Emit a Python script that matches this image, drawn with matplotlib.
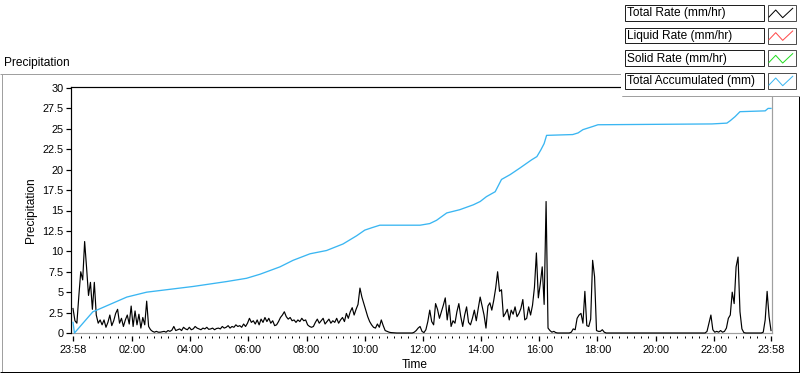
import numpy as np
import matplotlib
matplotlib.use("Agg")
import matplotlib.pyplot as plt
from matplotlib.patches import Rectangle

plt.rcParams['font.family'] = ['Liberation Sans', 'DejaVu Sans']

# ---------------- data ----------------
# Total rate (mm/hr), sampled every 4 minutes starting at 23:58
rate_step_min = 4
rate_00_05 = [3.0, 1.5, 1.2, 4.5, 7.5, 6.5, 11.2, 8.0, 4.6, 6.2, 2.9, 6.2, 2.2, 1.2, 1.6,
              1.0, 1.6, 0.7, 1.3, 2.2, 0.9, 1.5, 2.4, 2.9, 1.2, 1.8, 0.8, 1.6, 2.2, 1.1,
              3.3, 0.8, 2.7, 1.0, 2.3, 0.6, 1.9, 1.0, 3.9, 0.8, 0.4, 0.2, 0.1, 0.2, 0.1,
              0.1, 0.15, 0.2, 0.1, 0.3, 0.2, 0.35, 0.8, 0.3, 0.4, 0.5, 0.3, 0.7, 0.5, 0.4,
              0.7, 0.4, 0.5, 0.8, 0.6, 0.5, 0.4, 0.6, 0.5, 0.7, 0.45, 0.5, 0.6, 0.4, 0.55,
              0.6, 0.5, 0.8, 0.6, 0.7, 0.9, 0.6, 0.8, 0.7, 1.0, 0.8, 0.9, 0.7, 1.1, 0.8]
rate_06_11 = [1.2, 1.8, 1.3, 1.5, 1.1, 1.6, 1.0, 1.7, 1.3, 1.9, 1.4, 1.8, 1.2, 1.5, 0.9,
              1.0, 1.4, 1.9, 2.2, 2.6, 2.0, 1.7, 1.9, 1.5, 1.6, 1.3, 1.6, 1.4, 1.8, 1.5,
              1.6, 1.0, 0.8, 0.7, 0.8, 1.3, 1.7, 1.2, 1.5, 1.8, 1.1, 1.4, 1.7, 1.2, 1.5,
              1.3, 1.8, 1.2, 1.6, 1.9, 1.4, 2.4, 1.8, 2.6, 3.1, 2.2, 2.9, 3.5, 5.5, 4.4,
              3.6, 2.8, 2.0, 1.4, 1.0, 0.7, 0.6, 1.1, 0.7, 1.6, 0.9, 0.3, 0.2, 0.1, 0.05,
              0.03, 0.02, 0, 0, 0, 0, 0, 0, 0, 0, 0, 0.1, 0.3, 0.6, 0.8]
rate_12_17 = [0.2, 0.05, 0.4, 1.4, 2.8, 1.4, 1.0, 3.6, 2.9, 1.8, 2.6, 3.4, 4.3, 1.6, 3.4,
              0.8, 1.5, 1.2, 2.6, 3.6, 2.0, 0.8, 2.2, 3.2, 1.3, 1.0, 1.8, 2.8, 1.5, 3.0,
              4.4, 3.3, 2.2, 0.6, 3.3, 3.7, 2.8, 4.0, 5.5, 7.5, 5.1, 5.3, 2.0, 2.4, 2.9,
              1.6, 2.8, 2.3, 3.2, 2.0, 2.4, 3.0, 4.1, 1.6, 1.8, 3.2, 2.2, 3.4, 5.6, 9.8,
              4.3, 6.0, 8.1, 3.5, 16.1, 0.6, 0.3, 0.1, 0.2, 0.05, 0, 0, 0, 0, 0,
              0, 0, 0.1, 0.5, 0.4, 1.8, 2.2, 2.4, 1.2, 5.1, 0.9, 0.8, 1.7, 8.9, 6.9]
rate_18_23 = [0.3, 0.2, 0.2, 0.4, 0.1, 0, 0, 0, 0, 0, 0, 0, 0, 0, 0,
              0, 0, 0, 0, 0, 0, 0, 0, 0, 0, 0, 0, 0, 0, 0,
              0, 0, 0, 0, 0, 0, 0, 0, 0, 0, 0, 0, 0, 0, 0,
              0, 0, 0, 0, 0, 0, 0, 0, 0, 0, 0, 0, 0.2, 1.2, 2.2,
              0.4, 0.1, 0.2, 0.1, 0.3, 0.1, 0.2, 0.6, 1.8, 2.2, 5.0, 3.6, 8.1, 9.3, 2.6,
              0.5, 0.05, 0, 0, 0, 0, 0, 0, 0, 0, 0, 0.1, 1.6, 5.1, 2.0,
              0.3]

# Total accumulated (mm): minutes after 23:58, value
accum_minutes = [0, 3, 41, 49, 111, 152, 248, 317, 358, 386,
                 427, 454, 489, 523, 557, 585, 602, 617, 633, 716,
                 736, 750, 771, 798, 826, 840, 853, 871, 884, 902,
                 922, 946, 957, 965, 972, 977, 1031, 1042, 1052, 1073,
                 1083, 1318, 1349, 1356, 1366, 1376, 1428, 1434, 1440]
accum_values = [1.3, 0.0, 2.6, 2.8, 4.4, 5.0, 5.7, 6.3, 6.7, 7.2,
                8.1, 8.9, 9.7, 10.1, 10.9, 11.9, 12.6, 12.9, 13.2, 13.2,
                13.4, 13.8, 14.7, 15.1, 15.7, 16.1, 16.7, 17.3, 18.8, 19.4,
                20.2, 21.2, 21.6, 22.4, 23.2, 24.2, 24.3, 24.5, 24.9, 25.3,
                25.5, 25.6, 25.7, 26.0, 26.5, 27.1, 27.2, 27.5, 27.5]

x_tick_minutes = [0, 122, 242, 362, 482, 602, 722, 842, 962, 1082, 1202, 1322, 1440]
x_tick_labels = ["23:58", "02:00", "04:00", "06:00", "08:00", "10:00", "12:00",
                 "14:00", "16:00", "18:00", "20:00", "22:00", "23:58"]
y_ticks = [0, 2.5, 5, 7.5, 10, 12.5, 15, 17.5, 20, 22.5, 25, 27.5, 30]
y_tick_labels = ["0", "2.5", "5", "7.5", "10", "12.5", "15", "17.5", "20",
                 "22.5", "25", "27.5", "30"]

legend_names = ["Total Rate (mm/hr)", "Liquid Rate (mm/hr)", "Solid Rate (mm/hr)",
                "Total Accumulated (mm)"]
legend_colors = ["#000000", "#ff4a4a", "#22dd22", "#3ab6f2"]

# ---------------- figure ----------------
W, H = 800, 373
fig = plt.figure(figsize=(W / 100, H / 100), dpi=100)
fig.patch.set_facecolor("white")

PX = 0.72  # one pixel in points
ax_l, ax_r, ax_t, ax_b = 71, 772, 87, 333
ax = fig.add_axes([ax_l / W, (H - ax_b) / H, (ax_r - ax_l) / W, (ax_b - ax_t) / H])
ax.set_facecolor("white")

rate_values = rate_00_05 + rate_06_11 + rate_12_17 + rate_18_23
rate_minutes = np.arange(len(rate_values)) * rate_step_min

ax.plot(rate_minutes, rate_values, color=legend_colors[0], lw=0.85, clip_on=False, zorder=3)
ax.plot(accum_minutes, accum_values, color=legend_colors[3], lw=0.95, clip_on=False, zorder=4)

px_per_min = (771 - 73) / 1440.0
ax.set_xlim(-(73 - ax_l) / px_per_min, 1440 + (ax_r - 771) / px_per_min)
px_per_unit = (333 - 88) / 30.0
ax.set_ylim(0, (ax_b - ax_t) / px_per_unit)

# spines
ax.spines['top'].set_color('black')
ax.spines['left'].set_color('black')
ax.spines['top'].set_linewidth(PX * 1.2)
ax.spines['left'].set_linewidth(PX * 1.2)
ax.spines['right'].set_color('#a0a0a0')
ax.spines['right'].set_linewidth(PX * 1.2)
ax.spines['bottom'].set_position(('outward', 3 * PX))
ax.spines['bottom'].set_visible(False)
ax.plot([0, 1], [0, 0], transform=ax.transAxes, color='#a0a0a0', lw=PX * 1.2,
        clip_on=False, zorder=1)

ax.set_yticks(y_ticks)
ax.set_yticklabels(y_tick_labels)
ax.set_xticks(x_tick_minutes)
ax.set_xticklabels(x_tick_labels)
minor = [2 + 15 * k for k in range(1, 96) if k % 8 != 0]
ax.set_xticks(minor, minor=True)

ax.tick_params(axis='y', direction='out', length=5 * PX, width=PX * 1.2, pad=2.5 * PX,
               labelsize=7.8, colors='black')
ax.tick_params(axis='x', which='major', direction='out', length=5 * PX, width=PX * 1.3,
               pad=4 * PX, labelsize=7.8, colors='black')
ax.tick_params(axis='x', which='minor', direction='out', length=2.5 * PX, width=PX,
               colors='black')

# ---------------- overlay (frame, legend, labels) ----------------
ov = fig.add_axes([0, 0, 1, 1], zorder=10)
ov.set_xlim(0, W)
ov.set_ylim(H, 0)
ov.axis('off')
ov.patch.set_alpha(0)

gray = '#a0a0a0'
def hline(x0, x1, y, c, lw=1):
    ov.plot([x0, x1], [y, y], color=c, lw=lw * PX, solid_capstyle='butt')
def vline(x, y0, y1, c, lw=1):
    ov.plot([x, x], [y0, y1], color=c, lw=lw * PX, solid_capstyle='butt')

# outer panel
hline(0, 621, 73.5, gray)
vline(1.5, 73.5, 371.5, gray)
hline(0, 800, 371.5, 'black')
vline(798.5, 95.5, 372, 'black')

# legend panel
ov.add_patch(Rectangle((621, -1), 180, 96.5, facecolor='white', edgecolor='none', zorder=5))
vline(621.5, 0, 95.5, gray)
hline(621.5, 800, 95.5, gray)

row_pitch = 22.67
for i, (name, col) in enumerate(zip(legend_names, legend_colors)):
    y0 = 5 + i * row_pitch
    ov.add_patch(Rectangle((624.5, y0), 139, 15.5, facecolor='white',
                           edgecolor='#202020', lw=PX, zorder=6))
    ov.text(627, y0 + 8.2, name, fontsize=8.6, va='center', ha='left', color='black', zorder=7)
    ov.add_patch(Rectangle((767.5, y0), 28, 16, facecolor='white',
                           edgecolor='#505050', lw=PX, zorder=6))
    ov.plot([769, 775.7, 782.7, 792.7], [y0 + 12, y0 + 5, y0 + 12.7, y0 + 3.3],
            color=col, lw=PX, zorder=7)

# texts
ov.text(4, 63, "Precipitation", fontsize=8.6, va='center', ha='left', color='black')
ov.text(30.5, 210, "Precipitation", fontsize=8.6, va='center', ha='center',
        rotation=90, color='black')
ov.text(415, 365, "Time", fontsize=8.6, va='center', ha='center', color='black')

fig.savefig("out.png", dpi=100, facecolor='white')
